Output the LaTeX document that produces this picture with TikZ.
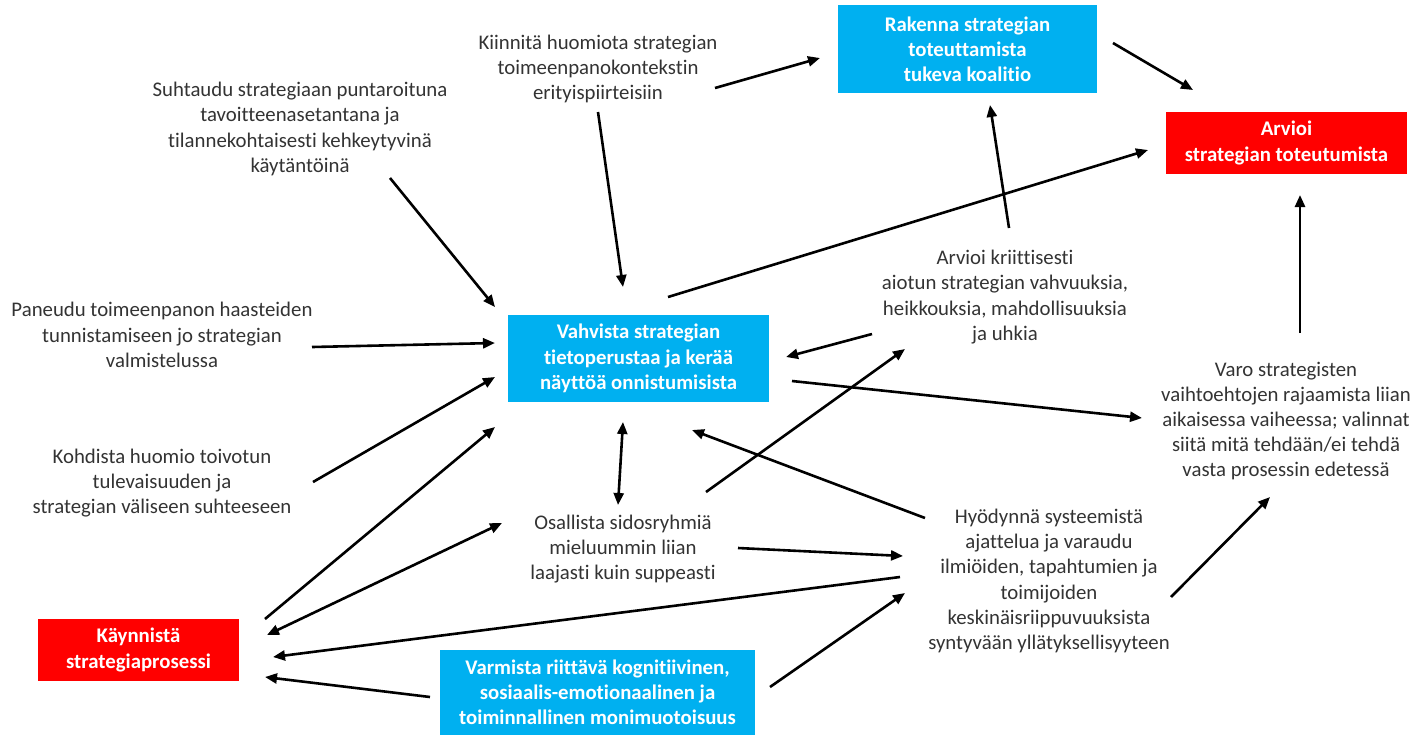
\documentclass[tikz,border=0pt]{standalone}
\usepackage{fontspec}
\setmainfont{Carlito}[Ligatures={NoCommon,NoRare}]
\usetikzlibrary{arrows.meta,calc}
\definecolor{boxblue}{HTML}{00B0F0}
\definecolor{boxred}{HTML}{FF0000}
\definecolor{txt}{HTML}{333333}
\tikzset{
  lbl/.style={align=center,inner sep=0pt,text=txt,font=\fontsize{10.4}{12.6}\selectfont},
  bluebox/.style={fill=boxblue,draw=none,align=center,inner sep=0pt,text=white,font=\fontsize{10.4}{12.6}\selectfont\bfseries},
  redbox/.style={fill=boxred,draw=none,align=center,inner sep=0pt,text=white,font=\fontsize{10.4}{12.6}\selectfont\bfseries},
  arr/.style={line width=1.3pt,-{Triangle[length=6pt,width=5pt]}},
  darr/.style={line width=1.3pt,{Triangle[length=6pt,width=5pt]}-{Triangle[length=6pt,width=5pt]}}
}
\begin{document}
\begin{tikzpicture}[x=0.5pt,y=-0.5pt]
\useasboundingbox (0,0) rectangle (1418,735);
% nodes
\node[lbl] (suht) at (300,129) {Suhtaudu strategiaan puntaroituna\\tavoitteenasetantana ja\\tilannekohtaisesti kehkeytyvinä\\käytäntöinä};
\node[lbl] (kiin) at (598,69) {Kiinnitä huomiota strategian\\toimeenpanokontekstin\\erityispiirteisiin};
\node[bluebox,minimum width=129.5pt,minimum height=44pt] (rak) at (967.5,49) {Rakenna strategian\\toteuttamista\\tukeva koalitio};
\node[redbox,minimum width=120.5pt,minimum height=31pt] (arv) at (1286.5,143) {Arvioi\\strategian toteutumista};
\node[bluebox,minimum width=130.5pt,minimum height=43.5pt] (vah) at (638.5,358.5) {Vahvista strategian\\tietoperustaa ja kerää\\näyttöä onnistumisista};
\node[lbl] (krit) at (1005,297) {Arvioi kriittisesti\\aiotun strategian vahvuuksia,\\heikkouksia, mahdollisuuksia\\ja uhkia};
\node[lbl] (pan) at (162,335) {Paneudu toimeenpanon haasteiden\\tunnistamiseen jo strategian\\valmistelussa};
\node[lbl] (koh) at (162,483) {Kohdista huomio toivotun\\tulevaisuuden ja\\strategian väliseen suhteeseen};
\node[redbox,minimum width=100.5pt,minimum height=31pt] (kay) at (138.5,650) {Käynnistä\\strategiaprosessi};
\node[lbl] (osa) at (623,549) {Osallista sidosryhmiä\\mieluummin liian\\laajasti kuin suppeasti};
\node[bluebox,minimum width=157.5pt,minimum height=42.5pt] (var) at (597.5,692.5) {Varmista riittävä kognitiivinen,\\sosiaalis-emotionaalinen ja\\toiminnallinen monimuotoisuus};
\node[lbl] (hyo) at (1049,581) {Hyödynnä systeemistä\\ajattelua ja varaudu\\ilmiöiden, tapahtumien ja\\toimijoiden\\keskinäisriippuvuuksista\\syntyvään yllätyksellisyyteen};
\node[lbl] (varo) at (1286,421) {Varo strategisten\\vaihtoehtojen rajaamista liian\\aikaisessa vaiheessa; valinnat\\siitä mitä tehdään/ei tehdä\\vasta prosessin edetessä};
% connectors
\draw[arr] ($(kiin)+(117,19)$) -- ($(rak)+(-147.5,9)$);
\draw[arr] ($(rak)+(145.5,-6)$) -- ($(arv)+(-93.5,-53)$);
\draw[arr] ($(kiin)+(0,43)$) -- ($(vah)+(-15.5,-71.5)$);
\draw[arr] ($(suht)+(90,49)$) -- ($(vah)+(-143.5,-51.5)$);
\draw[arr] ($(vah)+(29.5,-61.5)$) -- ($(arv)+(-138.5,7)$);
\draw[arr] ($(krit)+(4,-69)$) -- ($(rak)+(22.5,56)$);
\draw[arr] ($(krit)+(-133,37)$) -- ($(vah)+(147.5,-1.5)$);
\draw[arr] ($(pan)+(150,12)$) -- ($(vah)+(-143.5,-15.5)$);
\draw[arr] ($(koh)+(151,-1)$) -- ($(vah)+(-143.5,18.5)$);
\draw[arr] ($(kay)+(126.5,-31)$) -- ($(vah)+(-143.5,68.5)$);
\draw[darr] ($(vah)+(-15.5,63.5)$) -- ($(osa)+(-5,-44)$);
\draw[arr] ($(osa)+(83,-57)$) -- ($(krit)+(-100,52)$);
\draw[arr] ($(hyo)+(-124,-63)$) -- ($(vah)+(53.5,71.5)$);
\draw[arr] ($(vah)+(153.5,22.5)$) -- ($(varo)+(-144,-3)$);
\draw[arr] ($(varo)+(14,-88)$) -- ($(arv)+(13.5,52)$);
\draw[arr] ($(hyo)+(122,16)$) -- ($(varo)+(-16,76)$);
\draw[darr] ($(kay)+(128.5,-15)$) -- ($(osa)+(-121,-26)$);
\draw[arr] ($(hyo)+(-149,-4)$) -- ($(kay)+(134.5,7)$);
\draw[arr] ($(var)+(-167.5,4.5)$) -- ($(kay)+(126.5,27)$);
\draw[arr] ($(var)+(172.5,-5.5)$) -- ($(hyo)+(-144,12)$);
\draw[arr] ($(osa)+(115,-1)$) -- ($(hyo)+(-146,-25)$);
\end{tikzpicture}
\end{document}
